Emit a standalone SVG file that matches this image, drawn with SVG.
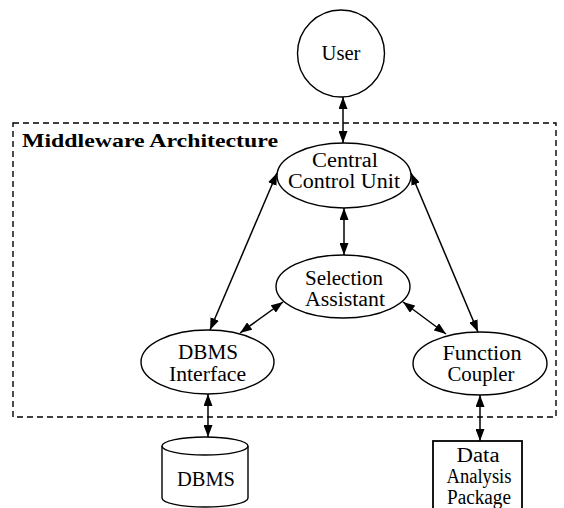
<svg xmlns="http://www.w3.org/2000/svg" width="564" height="508" viewBox="0 0 564 508">
<defs>
<marker id="ah" viewBox="0 0 12 9" refX="12" refY="4.5" markerWidth="12" markerHeight="9" markerUnits="userSpaceOnUse" orient="auto-start-reverse">
<path d="M0,0 L12,4.5 L0,9 z" fill="#000"/>
</marker>
<style>
.n{fill:#fff;stroke:#000;stroke-width:1.4}
.t{font-family:"Liberation Serif","Times New Roman",serif;font-size:20px;fill:#000;text-anchor:middle}
.c{fill:none;stroke:#000;stroke-width:1.5;marker-start:url(#ah);marker-end:url(#ah)}
.box{fill:none;stroke:#000;stroke-width:1.4;stroke-dasharray:6 4}
.lbl{font-family:"Liberation Serif","Times New Roman",serif;font-size:19px;font-weight:bold;fill:#000}
</style>
</defs>
<g id="middleware">
<rect class="box" x="13" y="123" width="543" height="294"/>
<text class="lbl" x="22" y="147" textLength="256" lengthAdjust="spacingAndGlyphs">Middleware Architecture</text>
</g>
<g id="connectors">
<line class="c" x1="343" y1="97" x2="343" y2="143"/>
<line class="c" x1="344" y1="208" x2="344" y2="255"/>
<line class="c" x1="277" y1="173" x2="210" y2="330"/>
<line class="c" x1="411" y1="173" x2="478" y2="332"/>
<line class="c" x1="283" y1="302" x2="240" y2="333"/>
<line class="c" x1="403" y1="302" x2="446" y2="334"/>
<line class="c" x1="208" y1="394" x2="208" y2="437"/>
<line class="c" x1="480" y1="395" x2="480" y2="441"/>
</g>
<g id="user">
<circle class="n" cx="341" cy="53.5" r="43.5"/>
<text class="t" x="341" y="60" textLength="39" lengthAdjust="spacingAndGlyphs">User</text>
</g>
<g id="ccu">
<ellipse class="n" cx="344" cy="175.5" rx="67" ry="32.5"/>
<text class="t" x="345" y="167" textLength="66" lengthAdjust="spacingAndGlyphs">Central</text>
<text class="t" x="344" y="188" textLength="112" lengthAdjust="spacingAndGlyphs">Control Unit</text>
</g>
<g id="sa">
<ellipse class="n" cx="343" cy="286.5" rx="67" ry="31.5"/>
<text class="t" x="344" y="285" textLength="78" lengthAdjust="spacingAndGlyphs">Selection</text>
<text class="t" x="345" y="306" textLength="80" lengthAdjust="spacingAndGlyphs">Assistant</text>
</g>
<g id="dbmsi">
<ellipse class="n" cx="207.5" cy="362" rx="66.5" ry="32"/>
<text class="t" x="208" y="359" textLength="60" lengthAdjust="spacingAndGlyphs">DBMS</text>
<text class="t" x="207.5" y="381" textLength="77" lengthAdjust="spacingAndGlyphs">Interface</text>
</g>
<g id="fc">
<ellipse class="n" cx="480" cy="363.5" rx="67" ry="31.5"/>
<text class="t" x="482" y="360" textLength="79" lengthAdjust="spacingAndGlyphs">Function</text>
<text class="t" x="481" y="381" textLength="67" lengthAdjust="spacingAndGlyphs">Coupler</text>
</g>
<g id="dbms">
<path class="n" d="M162,446 L162,498 A43,9 0 0 0 248,498 L248,446"/>
<ellipse class="n" cx="205" cy="446" rx="43" ry="9"/>
<text class="t" x="206" y="486" textLength="58" lengthAdjust="spacingAndGlyphs">DBMS</text>
</g>
<g id="dap">
<rect class="n" x="433" y="441" width="89" height="80" style="stroke-width:1.8"/>
<text class="t" x="478" y="462" textLength="43" lengthAdjust="spacingAndGlyphs">Data</text>
<text class="t" x="479" y="483" textLength="65" lengthAdjust="spacingAndGlyphs">Analysis</text>
<text class="t" x="479" y="504" textLength="64" lengthAdjust="spacingAndGlyphs">Package</text>
</g>
</svg>
